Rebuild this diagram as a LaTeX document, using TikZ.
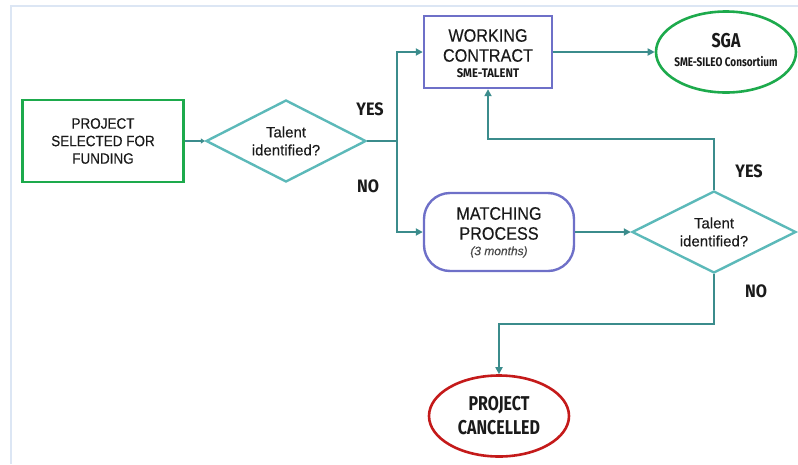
\documentclass[tikz,border=0pt]{standalone}
\usepackage{fontspec}
\setmainfont[FakeBold=0.3]{Liberation Sans}
\newfontfamily\narrowfont[FakeStretch=0.9,FakeBold=0.3]{Liberation Sans}
\newfontfamily\condfont[FakeStretch=0.8]{Fira Sans}
\newfontfamily\semicondfont[FakeStretch=0.9]{Fira Sans}
\usetikzlibrary{shapes.geometric,arrows.meta}
\definecolor{frameblue}{HTML}{DCE6F4}
\definecolor{boxgreen}{HTML}{1DAA4C}
\definecolor{boxpurple}{HTML}{6E70C8}
\definecolor{boxred}{HTML}{C41A1A}
\definecolor{dteal}{HTML}{5CB9B9}
\definecolor{cteal}{HTML}{3B8C8C}
\definecolor{txt}{HTML}{1A1A1A}
\begin{document}
\begin{tikzpicture}[x=1pt,y=-1pt,
  every node/.style={text=txt,align=center,inner sep=0pt},
  greenbox/.style={draw=boxgreen,line width=2.4pt,rectangle,minimum width=161,minimum height=82},
  purplebox/.style={draw=boxpurple,line width=2.4pt,rectangle,minimum width=128,minimum height=72},
  purpleround/.style={draw=boxpurple,line width=2.4pt,rectangle,rounded corners=26pt,minimum width=150,minimum height=78},
  decision/.style={draw=dteal,line width=2.4pt,diamond,minimum width=#1,minimum height=82},
  greenoval/.style={draw=boxgreen,line width=2.6pt,ellipse,minimum width=140,minimum height=81},
  redoval/.style={draw=boxred,line width=2.6pt,ellipse,minimum width=140,minimum height=81},
  conn/.style={draw=cteal,line width=2.8pt},
  arr/.style={conn,-{Triangle[length=7pt,width=7pt]}},
  lbl/.style={font=\semicondfont\bfseries\fontsize{18}{20}\selectfont}
]
\useasboundingbox (0,0) rectangle (798,464);
\draw[frameblue,line width=1.8pt] (11,464) -- (11,6) -- (798,6);

\node[greenbox] (proj) at (103,141) {};
\node[font=\narrowfont\fontsize{15}{17.5}\selectfont] (projt) at (103,141) {PROJECT\\SELECTED FOR\\FUNDING};

\node[decision=160] (d1) at (286,141) {};
\node[font=\fontsize{15}{18}\selectfont] (d1t) at (286,141) {Talent\\identified?};

\node[purplebox] (wc) at (488,52) {};
\node[font=\narrowfont\fontsize{18}{20}\selectfont] (wct) at (488,45.5) {WORKING\\CONTRACT};
\node[font=\semicondfont\bfseries\fontsize{12.5}{14}\selectfont] (wcs) at (488,73) {SME-TALENT};

\node[greenoval] (sga) at (726,52) {};
\node[font=\condfont\bfseries\fontsize{20}{22}\selectfont] (sgat) at (726,41) {SGA};
\node[font=\condfont\bfseries\fontsize{12.5}{14}\selectfont] (sgas) at (726,61.5) {SME-SILEO Consortium};

\node[purpleround] (mp) at (499,232) {};
\node[font=\narrowfont\fontsize{18}{20}\selectfont] (mpt) at (499,223.5) {MATCHING\\PROCESS};
\node[font=\itshape\fontsize{12}{14}\selectfont,text=txt!80] (mps) at (499,252) {(3 months)};

\node[decision=164] (d2) at (714,232) {};
\node[font=\fontsize{15}{18}\selectfont] (d2t) at (714,232) {Talent\\identified?};

\node[redoval] (pc) at (499,416) {};
\node[font=\condfont\bfseries\fontsize{20}{24}\selectfont] (pct) at (499,416) {PROJECT\\CANCELLED};

\node[lbl] (yes1) at (370,109) {YES};
\node[lbl] (no1) at (368,186) {NO};
\node[lbl] (yes2) at (749,171) {YES};
\node[lbl] (no2) at (756,291) {NO};

\coordinate (j) at (397,141);
\coordinate (fb) at (714,139);
\coordinate (nb) at (714,324);

\draw[conn,-{Triangle[length=4pt,width=5pt]}] (proj.east) -- (d1.west);
\draw[conn] (d1.east) -- (j);
\draw[arr] (j) |- (wc.west);
\draw[arr] (j) |- (mp.west);
\draw[arr] (wc.east) -- (sga.west);
\draw[arr] (mp.east) -- (d2.west);
\draw[arr] (d2.north) -- (fb) -| (wc.south);
\draw[arr] (d2.south) -- (nb) -| (pc.north);
\end{tikzpicture}
\end{document}
